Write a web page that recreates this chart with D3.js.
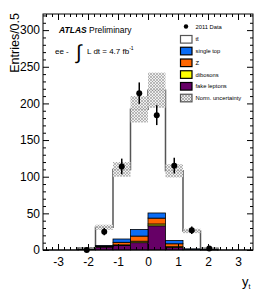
<!DOCTYPE html>
<html>
<head>
<meta charset="utf-8">
<script src="https://cdn.jsdelivr.net/npm/d3@7"></script>
<style>
  body { margin: 0; background: #fff; }
  text { font-family: "Liberation Sans", Arial, sans-serif; }
</style>
</head>
<body>
<div id="chart"></div>
<script>
// bins of y_t (low edges), width 7/12
const binLo = [-3.5, -2.9167, -2.3333, -1.75, -1.1667, -0.5833, 0, 0.5833, 1.1667, 1.75, 2.3333, 2.9167];
const binW = 0.5833;

// stacked backgrounds, bottom to top
const fakeLeptons = [0, 0, 0.5, 4, 6, 10, 33, 3.5, 0.5, 0.2, 0, 0];
const dibosons    = [0, 0, 0.1, 0.5, 1, 2, 2.5, 1, 0.2, 0, 0, 0];
const zjets       = [0, 0, 0.3, 1, 3.5, 7, 8, 4, 0.3, 0.1, 0, 0];
const singleTop   = [0, 0, 0.2, 0.5, 4.5, 9, 7, 4.5, 0.5, 0.2, 0, 0];
const ttbar       = [0, 0, 1.9, 25, 95, 164, 167.5, 95, 24.5, 2, 0, 0];
const normUnc     = [0, 0, 0.5, 3.5, 10, 18, 24, 9, 3, 0.4, 0, 0];
const data2011    = [null, null, 0, 25, 114, 214, 184, 115, 27, 2, null, null];

const xTicks = [-3, -2, -1, 0, 1, 2, 3];
const yTicks = [0, 50, 100, 150, 200, 250, 300];

const width = 266, height = 300;
const m = { left: 43, right: 13, top: 14, bottom: 50 };
const W = width - m.left - m.right, H = height - m.top - m.bottom;

const svg = d3.select('#chart').append('svg')
  .attr('width', width).attr('height', height);

const defs = svg.append('defs');
const pat = defs.append('pattern')
  .attr('id', 'hatch').attr('patternUnits', 'userSpaceOnUse')
  .attr('width', 3).attr('height', 3);
pat.append('rect').attr('width', 3).attr('height', 3).attr('fill', '#eee');
pat.append('path').attr('d', 'M0,0L3,3M3,0L0,3')
  .attr('stroke', '#888').attr('stroke-width', 0.6);

const x = d3.scaleLinear().domain([-3.5, 3.5]).range([0, W]);
const y = d3.scaleLinear().domain([0, 322]).range([H, 0]);

const g = svg.append('g').attr('transform', `translate(${m.left},${m.top})`);

// stack components
const comps = [
  { name: 'fake leptons', vals: fakeLeptons, color: '#660066' },
  { name: 'dibosons', vals: dibosons, color: '#ffff00' },
  { name: 'Z', vals: zjets, color: '#ff6600' },
  { name: 'single top', vals: singleTop, color: '#0a6cf5' },
];
const total = binLo.map((b, i) => fakeLeptons[i] + dibosons[i] + zjets[i] + singleTop[i] + ttbar[i]);

// ttbar (total) histogram outline
const step = [];
binLo.forEach((b, i) => {
  step.push([x(b), y(total[i])]);
  step.push([x(b + binW), y(total[i])]);
});
step.unshift([x(-3.5), y(0)]);
step.push([x(3.5), y(0)]);
g.append('path')
  .attr('d', d3.line()(step))
  .attr('fill', '#fff').attr('stroke', '#555').attr('stroke-width', 1.5);

// coloured stack
let base = binLo.map(() => 0);
comps.forEach(c => {
  const lo = base.slice();
  base = base.map((v, i) => v + c.vals[i]);
  g.append('g').selectAll('rect')
    .data(binLo.map((b, i) => ({ b, lo: lo[i], hi: base[i] })).filter(d => d.hi > d.lo))
    .join('rect')
    .attr('x', d => x(d.b)).attr('width', x(binW) - x(0))
    .attr('y', d => y(d.hi)).attr('height', d => y(d.lo) - y(d.hi))
    .attr('fill', c.color).attr('stroke', '#000').attr('stroke-width', 0.8);
});

// normalisation uncertainty band
g.append('g').selectAll('rect')
  .data(binLo.map((b, i) => ({ b, t: total[i], u: normUnc[i] })).filter(d => d.u > 0))
  .join('rect')
  .attr('x', d => x(d.b)).attr('width', x(binW) - x(0))
  .attr('y', d => y(d.t + d.u)).attr('height', d => y(d.t - d.u) - y(d.t + d.u))
  .attr('fill', 'url(#hatch)').attr('opacity', 0.9);

// data points
const pts = binLo.map((b, i) => ({ c: b + binW / 2, v: data2011[i] })).filter(d => d.v !== null);
g.append('g').selectAll('line')
  .data(pts.filter(d => d.v > 0))
  .join('line')
  .attr('x1', d => x(d.c)).attr('x2', d => x(d.c))
  .attr('y1', d => y(d.v + Math.sqrt(d.v))).attr('y2', d => y(Math.max(0, d.v - Math.sqrt(d.v))))
  .attr('stroke', '#000').attr('stroke-width', 1.5);
g.append('g').selectAll('circle')
  .data(pts)
  .join('circle')
  .attr('cx', d => x(d.c)).attr('cy', d => y(d.v)).attr('r', 3)
  .attr('fill', '#000');

// axes with inward ticks on all sides
function ticks(axisGen, t, tv, size, labels) {
  const a = axisGen.tickValues(tv).tickSize(size).tickPadding(6);
  a.tickFormat(labels ? d => String(d) : '');
  t.call(a);
  t.select('.domain').remove();
  t.selectAll('line').attr('stroke', '#000');
  t.selectAll('text').attr('font-size', 12).attr('fill', '#000');
}
const xMinor = d3.range(-3.4, 3.5, 0.2).filter(v => Math.abs(Math.round(v) - v) > 0.01);
const yMinor = d3.range(10, 322, 10).filter(v => v % 50 !== 0);

const gxb = g.append('g').attr('transform', `translate(0,${H})`);
ticks(d3.axisBottom(x), gxb.append('g'), xTicks, -6, true);
ticks(d3.axisBottom(x), gxb.append('g'), xMinor, -3, false);
gxb.selectAll('text').attr('dy', 0).attr('y', 16);
const gxt = g.append('g');
ticks(d3.axisTop(x), gxt.append('g'), xTicks, -6, false);
ticks(d3.axisTop(x), gxt.append('g'), xMinor, -3, false);

const gyl = g.append('g');
ticks(d3.axisLeft(y), gyl.append('g'), yTicks, -6, true);
ticks(d3.axisLeft(y), gyl.append('g'), yMinor, -3, false);
gyl.selectAll('text').attr('x', -3);
const gyr = g.append('g').attr('transform', `translate(${W},0)`);
ticks(d3.axisRight(y), gyr.append('g'), yTicks, -6, false);
ticks(d3.axisRight(y), gyr.append('g'), yMinor, -3, false);

g.append('rect').attr('width', W).attr('height', H)
  .attr('fill', 'none').attr('stroke', '#000').attr('stroke-width', 1);

// axis titles
svg.append('text')
  .attr('transform', 'translate(19,13) rotate(-90)')
  .attr('text-anchor', 'end').attr('font-size', 12.5)
  .text('Entries/0.5');
const xl = svg.append('text').attr('x', 242).attr('y', 286).attr('font-size', 13);
xl.append('tspan').text('y');
xl.append('tspan').attr('font-size', 7).attr('dy', 3).text('t');

// ATLAS labels
const at = svg.append('text').attr('x', 59).attr('y', 33).attr('font-size', 8.5);
at.append('tspan').attr('font-weight', 'bold').attr('font-style', 'italic').text('ATLAS');
at.append('tspan').text(' Preliminary');
svg.append('text').attr('x', 55).attr('y', 54).attr('font-size', 8).text('ee -');
svg.append('text').attr('x', 76).attr('y', 59).attr('font-size', 20).attr('font-family', 'DejaVu Sans').text('\u222B');
const lum = svg.append('text').attr('x', 87).attr('y', 54).attr('font-size', 8);
lum.append('tspan').text('L dt = 4.7 fb');
lum.append('tspan').attr('font-size', 5).attr('dy', -4).text('-1');

// legend
const leg = svg.append('g').attr('font-size', 5.8);
leg.append('circle').attr('cx', 186).attr('cy', 26.5).attr('r', 2.2).attr('fill', '#000');
leg.append('text').attr('x', 195.5).attr('y', 28.5).text('2011 Data');
const legRows = [
  { label: 'tt\u0304', fill: '#fff', stroke: '#555' },
  { label: 'single top', fill: '#0a6cf5', stroke: '#000' },
  { label: 'Z', fill: '#ff6600', stroke: '#000' },
  { label: 'dibosons', fill: '#ffff00', stroke: '#000' },
  { label: 'fake leptons', fill: '#660066', stroke: '#000' },
  { label: 'Norm. uncertainty', fill: 'url(#hatch)', stroke: '#555' },
];
legRows.forEach((r, i) => {
  const cy = 39.3 + i * 11.75;
  leg.append('rect').attr('x', 180.5).attr('y', cy - 3.8).attr('width', 11.5).attr('height', 7.6)
    .attr('fill', r.fill).attr('stroke', r.stroke).attr('stroke-width', 1.2);
  leg.append('text').attr('x', 195.5).attr('y', cy + 2).text(r.label);
});
</script>
</body>
</html>
